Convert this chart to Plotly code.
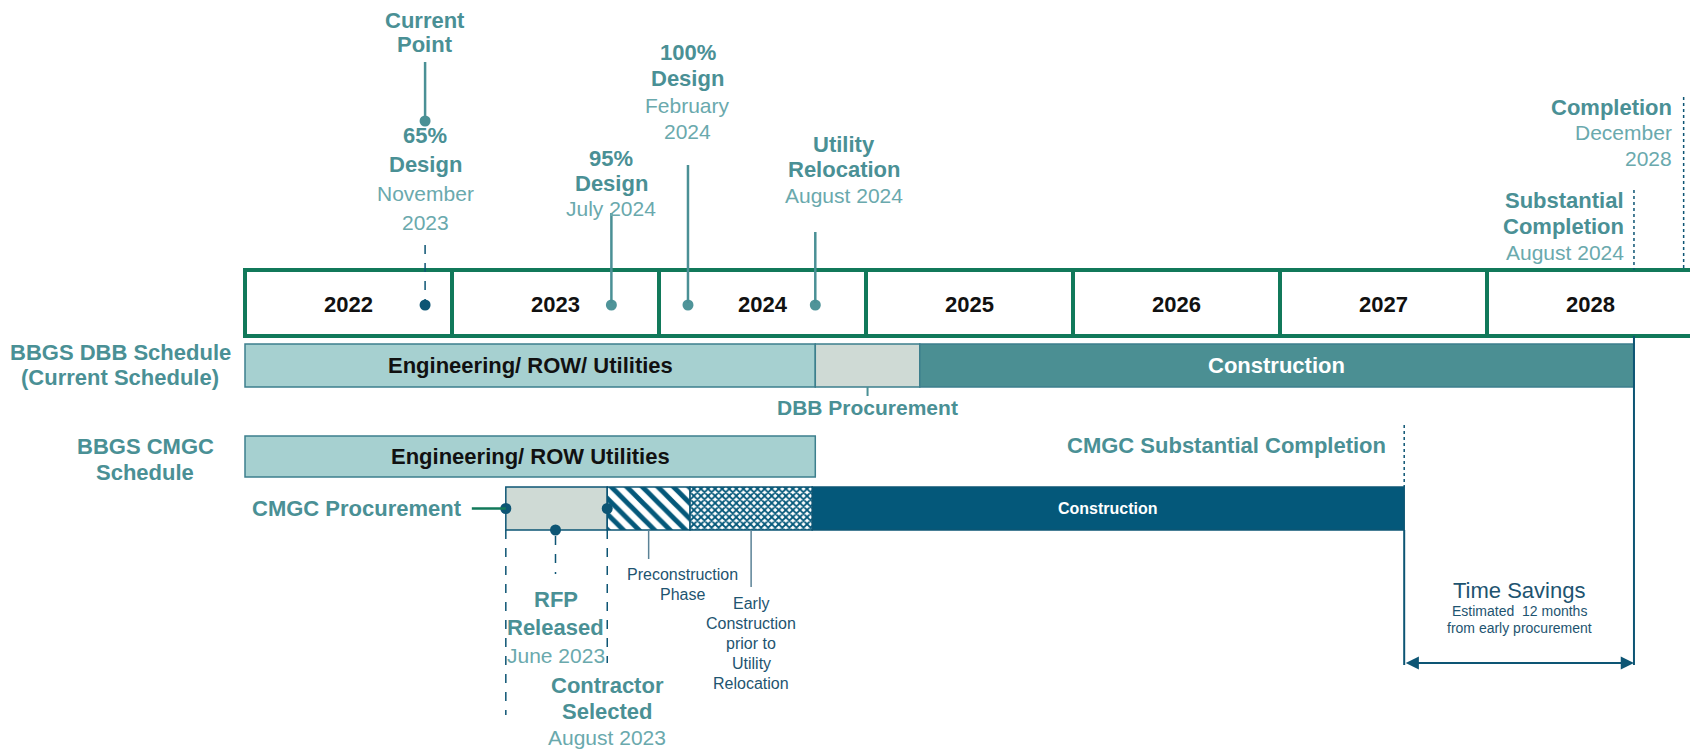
import plotly.graph_objects as go

# ---------------- data ----------------
years = [2022, 2023, 2024, 2025, 2026, 2027, 2028]

dbb_phases = ["Engineering/ ROW/ Utilities", "DBB Procurement", "Construction"]
dbb_start = [2022.0, 2024.755, 2025.26]
dbb_end = [2024.755, 2025.26, 2028.71]

cmgc_eng_phase = ["Engineering/ ROW Utilities"]
cmgc_eng_start = [2022.0]
cmgc_eng_end = [2024.755]

cmgc_phases = ["CMGC Procurement", "Preconstruction Phase",
               "Early Construction prior to Utility Relocation", "Construction"]
cmgc_start = [2023.26, 2023.75, 2024.15, 2024.74]
cmgc_end = [2023.75, 2024.15, 2024.74, 2027.60]

# top milestones (position on the year band)
ms_names = ["65% Design", "95% Design", "100% Design", "Utility Relocation"]
ms_dates = [2022.87, 2023.77, 2024.14, 2024.755]

rfp_date = 2023.50
completion_date = 2028.95
dbb_substantial = 2028.71
cmgc_substantial = 2027.60

# ---------------- styling ----------------
TEAL_TXT = "#4a9095"
TEAL_LIGHT_TXT = "#6aa9ad"
GREEN = "#11795a"
LIGHT_TEAL = "#a6d0d0"
TEAL_EDGE = "#3d7f8d"
GREY = "#cfdad5"
DBB_CON = "#4b8f93"
NAVY = "#04587a"
NAVY_LINE = "#0d5574"
SMALL = "#1e5470"
FONT = "Liberation Sans, Arial, sans-serif"

PX_PER_YEAR = 207.0
X0_PX = 245           # window pixel of 1 Jan 2022
PAGE_OFF = 8          # default body margin of the html page
W, H = 1698, 750
FW, FH = W - PAGE_OFF, H - PAGE_OFF
x_range = [2022 - (X0_PX - PAGE_OFF) / PX_PER_YEAR, 2022 + (W - X0_PX) / PX_PER_YEAR]
y_range = [H, PAGE_OFF]

# row geometry (y in window-pixel units, 0 = top)
YB_Y, YB_T = 303, 66          # year band
DBB_Y, DBB_T = 365.5, 43
CE_Y, CE_T = 456.5, 41
CC_Y, CC_T = 508.5, 43

fig = go.Figure()

# year band
fig.add_trace(go.Bar(
    y=[YB_Y] * len(years), x=[1] * len(years), base=years, width=YB_T,
    orientation="h", marker=dict(color="white", line=dict(color=GREEN, width=4)),
    hoverinfo="skip", showlegend=False))
for yr in years:
    fig.add_annotation(x=yr + 0.5, y=YB_Y + 1, text=f"<b>{yr}</b>", showarrow=False,
                       font=dict(size=22, color="#111111", family=FONT))

# DBB row
dbb_colors = [LIGHT_TEAL, GREY, DBB_CON]
fig.add_trace(go.Bar(
    y=[DBB_Y] * 3, x=[e - s for s, e in zip(dbb_start, dbb_end)], base=dbb_start,
    width=DBB_T, orientation="h",
    marker=dict(color=dbb_colors, line=dict(color=TEAL_EDGE, width=1.5)),
    hoverinfo="skip", showlegend=False))
fig.add_annotation(x=(dbb_start[0] + dbb_end[0]) / 2, y=DBB_Y, text="<b>" + dbb_phases[0] + "</b>",
                   showarrow=False, font=dict(size=22, color="#111111", family=FONT))
fig.add_annotation(x=(dbb_start[2] + dbb_end[2]) / 2, y=DBB_Y, text="<b>" + dbb_phases[2] + "</b>",
                   showarrow=False, font=dict(size=22, color="white", family=FONT))
# DBB procurement label
dp_mid = (dbb_start[1] + dbb_end[1]) / 2
fig.add_shape(type="line", x0=dp_mid, x1=dp_mid, y0=DBB_Y + DBB_T / 2, y1=DBB_Y + DBB_T / 2 + 9,
              line=dict(color=TEAL_TXT, width=2))
fig.add_annotation(x=dp_mid, y=407, text="<b>" + dbb_phases[1] + "</b>", showarrow=False,
                   font=dict(size=21, color=TEAL_TXT, family=FONT))

# CMGC engineering row
fig.add_trace(go.Bar(
    y=[CE_Y], x=[cmgc_eng_end[0] - cmgc_eng_start[0]], base=cmgc_eng_start, width=CE_T,
    orientation="h", marker=dict(color=LIGHT_TEAL, line=dict(color=TEAL_EDGE, width=1.5)),
    hoverinfo="skip", showlegend=False))
fig.add_annotation(x=(cmgc_eng_start[0] + cmgc_eng_end[0]) / 2, y=CE_Y,
                   text="<b>" + cmgc_eng_phase[0] + "</b>", showarrow=False,
                   font=dict(size=22, color="#111111", family=FONT))

# CMGC delivery row: solid segments
solid_idx = [0, 3]
fig.add_trace(go.Bar(
    y=[CC_Y] * 2, x=[cmgc_end[i] - cmgc_start[i] for i in solid_idx],
    base=[cmgc_start[i] for i in solid_idx], width=CC_T, orientation="h",
    marker=dict(color=[GREY, NAVY], line=dict(color=NAVY_LINE, width=1.5)),
    hoverinfo="skip", showlegend=False))
# patterned segments
fig.add_trace(go.Bar(
    y=[CC_Y], x=[cmgc_end[1] - cmgc_start[1]], base=[cmgc_start[1]], width=CC_T, orientation="h",
    marker=dict(color="white", line=dict(color=NAVY_LINE, width=1.5),
                pattern=dict(shape="\\", fgcolor=NAVY, size=11, solidity=0.45, fgopacity=1,
                             fillmode="overlay")),
    hoverinfo="skip", showlegend=False))
fig.add_trace(go.Bar(
    y=[CC_Y], x=[cmgc_end[2] - cmgc_start[2]], base=[cmgc_start[2]], width=CC_T, orientation="h",
    marker=dict(color="white", line=dict(color=NAVY_LINE, width=1.5),
                pattern=dict(shape="x", fgcolor=NAVY, size=5, solidity=0.6, fgopacity=1,
                             fillmode="overlay")),
    hoverinfo="skip", showlegend=False))
fig.add_annotation(x=(cmgc_start[3] + cmgc_end[3]) / 2, y=CC_Y, text="<b>" + cmgc_phases[3] + "</b>",
                   showarrow=False, font=dict(size=16, color="white", family=FONT))

# --- top milestone stems ---
cp = ms_dates[0]
fig.add_shape(type="line", x0=cp, x1=cp, y0=62, y1=121, line=dict(color=TEAL_TXT, width=2.5))
fig.add_shape(type="line", x0=cp, x1=cp, y0=245, y1=300, line=dict(color=NAVY_LINE, width=1.5, dash="dash"))
stem_tops = [None, 213, 165, 232]
for d, t in zip(ms_dates[1:], stem_tops[1:]):
    fig.add_shape(type="line", x0=d, x1=d, y0=t, y1=YB_Y, line=dict(color=TEAL_TXT, width=2.5))

fig.add_trace(go.Scatter(x=[cp], y=[121], mode="markers",
                         marker=dict(color=TEAL_TXT, size=11), hoverinfo="skip", showlegend=False))
fig.add_trace(go.Scatter(x=ms_dates, y=[YB_Y + 2] * 4, mode="markers",
                         marker=dict(color=[NAVY_LINE, "#4f9499", "#4f9499", "#4f9499"], size=11),
                         hoverinfo="skip", showlegend=False))


def label(x, y, lines, xanchor="center", xshift=0, step=26, sizes=None, colors=None, bolds=None):
    for i, ln in enumerate(lines):
        b = bolds[i] if bolds else True
        fig.add_annotation(x=x, y=y + i * step, text=(f"<b>{ln}</b>" if b else ln), showarrow=False,
                           xanchor=xanchor, xshift=xshift, yanchor="middle",
                           font=dict(size=sizes[i] if sizes else 22,
                                     color=colors[i] if colors else TEAL_TXT, family=FONT))


B, R = TEAL_TXT, TEAL_LIGHT_TXT
label(cp, 20, ["Current", "Point"], step=24)
label(cp, 135, ["65%", "Design", "November", "2023"], step=29,
      sizes=[22, 22, 21, 21], colors=[B, B, R, R], bolds=[1, 1, 0, 0])
label(ms_dates[1], 158, ["95%", "Design", "July 2024"], step=25,
      sizes=[22, 22, 21], colors=[B, B, R], bolds=[1, 1, 0])
label(ms_dates[2], 52, ["100%", "Design", "February", "2024"], step=26.5,
      sizes=[22, 22, 21, 21], colors=[B, B, R, R], bolds=[1, 1, 0, 0])
label(ms_dates[3], 144, ["Utility", "Relocation", "August 2024"], step=25.5, xshift=29,
      sizes=[22, 22, 21], colors=[B, B, R], bolds=[1, 1, 0])

# completion markers
fig.add_shape(type="line", x0=completion_date, x1=completion_date, y0=97, y1=268,
              line=dict(color=NAVY_LINE, width=1.5, dash="dot"))
fig.add_shape(type="line", x0=dbb_substantial, x1=dbb_substantial, y0=190, y1=270,
              line=dict(color=NAVY_LINE, width=1.5, dash="dot"))
label(completion_date, 107, ["Completion", "December", "2028"], xanchor="right", xshift=-10, step=25.5,
      sizes=[22, 21, 21], colors=[B, R, R], bolds=[1, 0, 0])
label(dbb_substantial, 200, ["Substantial", "Completion", "August 2024"], xanchor="right", xshift=-8,
      step=26, sizes=[22, 22, 21], colors=[B, B, R], bolds=[1, 1, 0])

# row labels
label(2022 - 125 / PX_PER_YEAR, 352, ["BBGS DBB Schedule", "(Current Schedule)"], step=25)
label(2022 - 100 / PX_PER_YEAR, 446, ["BBGS CMGC", "Schedule"], step=26)

# CMGC procurement
fig.add_shape(type="line", x0=cmgc_start[0] - 34 / PX_PER_YEAR, x1=cmgc_start[0], y0=CC_Y, y1=CC_Y,
              line=dict(color=GREEN, width=2.5))
fig.add_annotation(x=cmgc_start[0], y=CC_Y, xshift=-42, xanchor="right", text="<b>CMGC Procurement</b>",
                   showarrow=False, font=dict(size=22, color=TEAL_TXT, family=FONT))
fig.add_shape(type="line", x0=cmgc_start[0], x1=cmgc_start[0], y0=CC_Y + CC_T / 2, y1=715,
              line=dict(color=NAVY_LINE, width=1.5, dash="dash"))
fig.add_shape(type="line", x0=cmgc_end[0], x1=cmgc_end[0], y0=CC_Y + CC_T / 2, y1=663,
              line=dict(color=NAVY_LINE, width=1.5, dash="dash"))
fig.add_shape(type="line", x0=rfp_date, x1=rfp_date, y0=CC_Y + CC_T / 2 + 6, y1=574,
              line=dict(color=NAVY_LINE, width=1.5, dash="dash"))
fig.add_trace(go.Scatter(x=[cmgc_start[0], cmgc_end[0], rfp_date], y=[CC_Y, CC_Y, CC_Y + CC_T / 2],
                         mode="markers", marker=dict(color=NAVY_LINE, size=11),
                         hoverinfo="skip", showlegend=False))
label(rfp_date, 599, ["RFP", "Released", "June 2023"], step=28,
      sizes=[22, 22, 21], colors=[B, B, R], bolds=[1, 1, 0])
label(cmgc_end[0], 685, ["Contractor", "Selected", "August 2023"], step=26,
      sizes=[22, 22, 21], colors=[B, B, R], bolds=[1, 1, 0])

# preconstruction / early construction callouts
pc_mid = (cmgc_start[1] + cmgc_end[1]) / 2
ec_mid = (cmgc_start[2] + cmgc_end[2]) / 2
fig.add_shape(type="line", x0=pc_mid, x1=pc_mid, y0=CC_Y + CC_T / 2, y1=559,
              line=dict(color="#5b8296", width=1.5))
fig.add_shape(type="line", x0=ec_mid, x1=ec_mid, y0=CC_Y + CC_T / 2, y1=587,
              line=dict(color="#5b8296", width=1.5))
label(pc_mid, 574, ["Preconstruction", "Phase"], xshift=34, step=20,
      sizes=[16, 16], colors=[SMALL, SMALL], bolds=[0, 0])
label(ec_mid, 603, ["Early", "Construction", "prior to", "Utility", "Relocation"], step=20,
      sizes=[16] * 5, colors=[SMALL] * 5, bolds=[0] * 5)

# CMGC substantial completion
fig.add_shape(type="line", x0=cmgc_substantial, x1=cmgc_substantial, y0=425, y1=487,
              line=dict(color=NAVY_LINE, width=1.5, dash="dot"))
fig.add_annotation(x=cmgc_substantial, y=445, xshift=-16, xanchor="right",
                   text="<b>CMGC Substantial Completion</b>", showarrow=False,
                   font=dict(size=22, color=TEAL_TXT, family=FONT))

# time savings
fig.add_shape(type="line", x0=dbb_substantial, x1=dbb_substantial, y0=YB_Y + YB_T / 2, y1=665,
              line=dict(color=NAVY_LINE, width=2))
fig.add_shape(type="line", x0=cmgc_end[3], x1=cmgc_end[3], y0=CC_Y + CC_T / 2, y1=665,
              line=dict(color=NAVY_LINE, width=2))
fig.add_annotation(x=dbb_substantial, y=663, ax=cmgc_end[3], ay=663, xref="x", yref="y",
                   axref="x", ayref="y", text="", showarrow=True, arrowhead=2, startarrowhead=2,
                   arrowside="end+start", arrowsize=1.2, arrowwidth=2.2, arrowcolor=NAVY_LINE)
ts_mid = (cmgc_end[3] + dbb_substantial) / 2
fig.add_annotation(x=ts_mid, y=590, text="Time Savings", showarrow=False,
                   font=dict(size=22, color=SMALL, family=FONT))
fig.add_annotation(x=ts_mid, y=611, text="Estimated  12 months", showarrow=False,
                   font=dict(size=14, color=SMALL, family=FONT))
fig.add_annotation(x=ts_mid, y=628, text="from early procurement", showarrow=False,
                   font=dict(size=14, color=SMALL, family=FONT))

fig.update_layout(
    width=FW, height=FH, margin=dict(l=0, r=0, t=0, b=0),
    plot_bgcolor="white", paper_bgcolor="white", barmode="overlay",
    xaxis=dict(range=x_range, visible=False, fixedrange=True),
    yaxis=dict(range=y_range, visible=False, fixedrange=True),
    font=dict(family=FONT),
)

fig.write_html("out.html")
